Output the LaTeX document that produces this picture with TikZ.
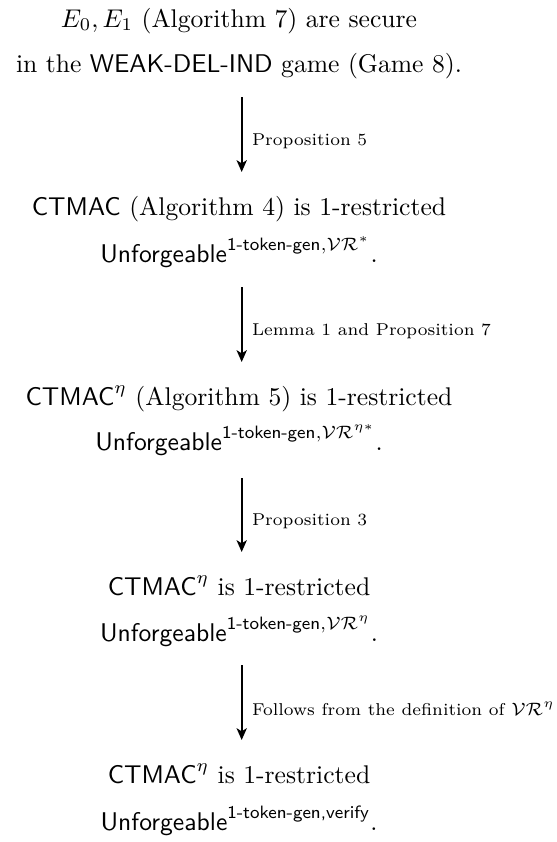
\documentclass[tikz,border=0pt]{standalone}
\usepackage{amsmath}
\usetikzlibrary{arrows.meta,calc}
\begin{document}
\begin{tikzpicture}[x=0.390625pt, y=-0.390625pt,
  txt/.style={inner sep=0pt, anchor=base},
  lab/.style={font=\fontsize{6.7}{8}\selectfont, anchor=west, inner sep=0pt, xshift=3.7pt, yshift=-2.6pt},
  arr/.style={-{Stealth[length=4.6pt,width=4pt,inset=1.2pt]}, line width=0.7pt}]
\useasboundingbox (0,0) rectangle (556,842);
% block 1
\node[txt] (a1) at (239,27) {$E_0, E_1$ (Algorithm 7) are secure};
\node[txt] (a2) at (239,72) {in the \textsf{WEAK-DEL-IND} game (Game 8).};
% block 2
\node[txt] (b1) at (239,215) {\textsf{CTMAC} (Algorithm 4) is 1-restricted};
\node[txt] (b2) at (239,262) {$\textsf{Unforgeable}^{\textsf{1-token-gen},\mathcal{VR}^*}$.};
% block 3
\node[txt] (c1) at (239,405) {$\textsf{CTMAC}^\eta$ (Algorithm 5) is 1-restricted};
\node[txt] (c2) at (239,450) {$\textsf{Unforgeable}^{\textsf{1-token-gen},\mathcal{VR}^{\eta *}}$.};
% block 4
\node[txt] (d1) at (239,595) {$\textsf{CTMAC}^\eta$ is 1-restricted};
\node[txt] (d2) at (239,641) {$\textsf{Unforgeable}^{\textsf{1-token-gen},\mathcal{VR}^{\eta}}$.};
% block 5
\node[txt] (e1) at (239,783) {$\textsf{CTMAC}^\eta$ is 1-restricted};
\node[txt] (e2) at (239,830) {$\textsf{Unforgeable}^{\textsf{1-token-gen,verify}}$.};
% arrows
\draw[arr] ($(a2.base)+(2.7,25)$) -- node[lab] (l1) {Proposition 5} ($(b1.base)+(2.7,-43)$);
\draw[arr] ($(b2.base)+(2.7,25)$) -- node[lab] (l2) {Lemma 1 and Proposition 7} ($(c1.base)+(2.7,-43)$);
\draw[arr] ($(c2.base)+(2.7,28)$) -- node[lab] (l3) {Proposition 3} ($(d1.base)+(2.7,-43)$);
\draw[arr] ($(d2.base)+(2.7,24)$) -- node[lab] (l4) {Follows from the definition of $\mathcal{VR}^\eta$} ($(e1.base)+(2.7,-43)$);
\end{tikzpicture}
\end{document}
